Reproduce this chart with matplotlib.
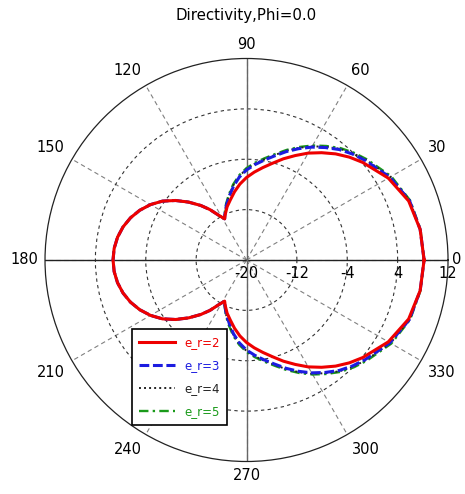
import numpy as np
import matplotlib
matplotlib.use('Agg')
import matplotlib.pyplot as plt

plt.rcParams['font.family'] = ['DejaVu Sans']

# angles (deg) for the upper half; the pattern is symmetric about phi=0
theta_half = np.array([0, 10, 20, 30, 40, 45, 50, 55, 60, 65, 70, 75, 80, 85, 90, 95, 100, 105,
                       110, 115, 118, 122, 126, 130, 135, 140, 145, 150, 155, 160, 165, 170, 175, 180])
d_er2 = np.array([8.2, 8.0, 7.4, 6.0, 4.1, 3.1, 2.0, 0.8, -0.4, -1.7, -2.9, -4.1, -5.1, -6.0, -6.9, -7.9,
                  -9.0, -10.1, -11.0, -12.0, -12.6, -11.6, -10.1, -8.7, -7.0, -5.3, -3.7, -2.4, -1.3,
                  -0.4, 0.3, 0.8, 1.1, 1.2])
d_er3 = np.array([8.2, 8.0, 7.55, 6.3, 4.6, 3.8, 2.9, 1.8, 0.7, -0.5, -1.7, -2.9, -3.9, -4.8, -5.7, -6.8,
                  -8.1, -9.5, -10.7, -11.9, -12.6, -11.6, -10.1, -8.7, -7.0, -5.3, -3.7, -2.4, -1.3,
                  -0.4, 0.3, 0.8, 1.1, 1.2])
d_er4 = np.array([8.2, 8.0, 7.6, 6.4, 4.75, 3.95, 3.05, 1.95, 0.85, -0.35, -1.55, -2.75, -3.75, -4.65,
                  -5.55, -6.65, -7.95, -9.35, -10.6, -11.85, -12.6, -11.6, -10.1, -8.7, -7.0, -5.3,
                  -3.7, -2.4, -1.3, -0.4, 0.3, 0.8, 1.1, 1.2])
d_er5 = np.array([8.2, 8.05, 7.65, 6.55, 4.9, 4.1, 3.2, 2.1, 1.0, -0.2, -1.4, -2.6, -3.6, -4.5, -5.4,
                  -6.5, -7.8, -9.2, -10.5, -11.8, -12.6, -11.6, -10.1, -8.7, -7.0, -5.3, -3.7, -2.4,
                  -1.3, -0.4, 0.3, 0.8, 1.1, 1.2])

labels = ['e_r=2', 'e_r=3', 'e_r=4', 'e_r=5']
colors = ['#ee0000', '#1c1ce0', '#222222', '#1a9a1a']
styles = ['-', (0, (3.2, 1.2)), (0, (1, 1.6)), (0, (4, 1.8, 1, 1.8))]
widths = [2.2, 2.2, 1.4, 1.7]

r_ticks = [-20, -12, -4, 4, 12]
theta_ticks = list(range(0, 360, 30))


def full_circle(vals):
    th = np.concatenate([theta_half, 360 - theta_half[::-1][1:]])
    v = np.concatenate([vals, vals[::-1][1:]])
    return np.deg2rad(th), v


fig = plt.figure(figsize=(4.65, 4.94), dpi=100)
fig.patch.set_facecolor('white')
ax = fig.add_axes([0.0968, 0.0658, 0.8667, 0.8158], projection='polar')

ax.set_rlim(-20, 12)
ax.set_rticks(r_ticks[1:-1])
ax.set_yticklabels([])
ax.yaxis.grid(True, linestyle=(0, (3, 3)), color='#333333', linewidth=0.8)
ax.set_thetagrids(theta_ticks, [''] * len(theta_ticks))
ax.xaxis.grid(True, linestyle=(0, (4, 3)), color='#808080', linewidth=0.8)
ax.spines['polar'].set_color('#222222')
ax.spines['polar'].set_linewidth(0.9)

# main cross axes (solid)
ax.plot(np.deg2rad([0, 0]), [-20, 12], color='#222222', lw=1.0, zorder=2)
ax.plot(np.deg2rad([180, 180]), [-20, 12], color='#222222', lw=1.0, zorder=2)
ax.plot(np.deg2rad([90, 90]), [-20, 12], color='#666666', lw=1.0, zorder=2)
ax.plot(np.deg2rad([270, 270]), [-20, 12], color='#666666', lw=1.0, zorder=2)

lines = {}
for i in [3, 2, 1, 0]:
    th, v = full_circle([d_er2, d_er3, d_er4, d_er5][i])
    ln, = ax.plot(th, v, color=colors[i], linestyle=styles[i], lw=widths[i],
                  label=labels[i], zorder=5 + (4 - i))
    lines[i] = ln

# angle labels outside the circle
for a in theta_ticks:
    c, s = np.cos(np.deg2rad(a)), np.sin(np.deg2rad(a))
    ha = 'left' if c > 0.1 else ('right' if c < -0.1 else 'center')
    va = 'bottom' if s > 0.1 else ('top' if s < -0.1 else 'center')
    d = 3 if a == 0 else (5 if a in (90, 180, 270) else 6)
    ax.annotate(str(a), xy=(np.deg2rad(a), 12), xytext=(d * c, d * s),
                textcoords='offset points', ha=ha, va=va, fontsize=10.5,
                annotation_clip=False)

# radial labels below the 0 deg line
for r in r_ticks:
    ax.annotate(str(r), xy=(0, r), xytext=(0, -4), textcoords='offset points',
                ha='center', va='top', fontsize=10.5, zorder=10)

fig.text(0.53, 0.969, 'Directivity,Phi=0.0', ha='center', va='center', fontsize=10.8)

leg = ax.legend([lines[i] for i in range(4)], labels, loc='upper left',
                bbox_to_anchor=(0.284, 0.334), bbox_transform=fig.transFigure,
                borderaxespad=0, fontsize=8.5, frameon=True, fancybox=False,
                framealpha=1, edgecolor='black', handlelength=3.0,
                labelspacing=0.85, borderpad=0.6, handletextpad=0.8)
leg.get_frame().set_linewidth(1.2)
for txt, c in zip(leg.get_texts(), colors):
    txt.set_color(c)

fig.savefig('out.png', dpi=100, facecolor='white')
